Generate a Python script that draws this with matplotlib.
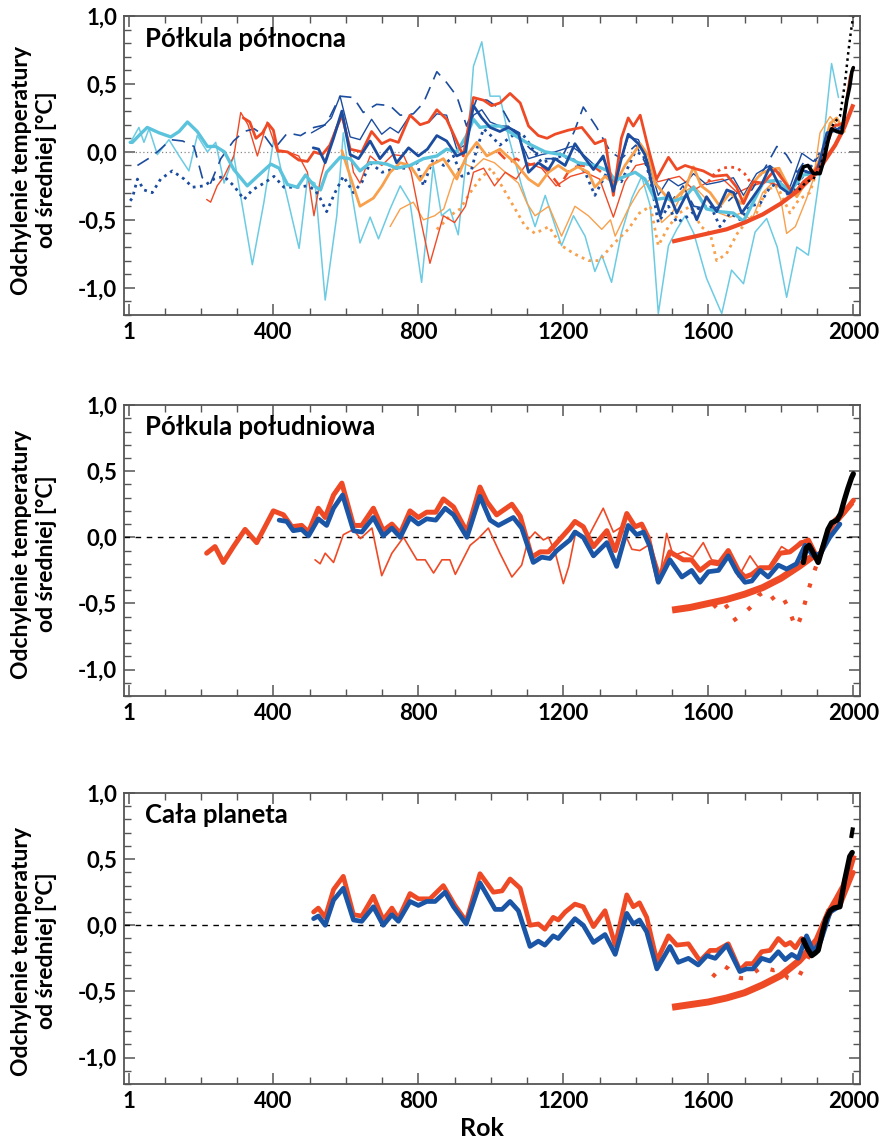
import numpy as np
import matplotlib
matplotlib.use('Agg')
import matplotlib.pyplot as plt
from matplotlib.ticker import MultipleLocator, FixedLocator, FuncFormatter

plt.rcParams['font.family'] = ['Lato', 'DejaVu Sans']
plt.rcParams['font.weight'] = 'bold'
plt.rcParams['lines.solid_joinstyle'] = 'round'
plt.rcParams['lines.solid_capstyle'] = 'round'

# ---------------- Północna (NH) ----------------
nh_cyan_thick_x = [5, 11, 29, 52, 85, 117, 140, 163, 190, 218, 241, 265, 291, 328, 356, 393, 416, 439, 466, 489, 512, 530, 547, 584, 612, 639, 667, 690, 713, 740, 777, 814, 851, 878, 906, 933, 952, 970, 998, 1025, 1039, 1067, 1104, 1150, 1195, 1241, 1287, 1324, 1343, 1370, 1398, 1425, 1453, 1481, 1508, 1536, 1559, 1595, 1632, 1669, 1697, 1720, 1752, 1789, 1825, 1862, 1890]
nh_cyan_thick_y = [0.07, 0.07, 0.12, 0.18, 0.14, 0.11, 0.15, 0.22, 0.15, 0.04, 0.04, 0.0, -0.13, -0.25, -0.18, -0.09, -0.12, -0.24, -0.26, -0.17, -0.25, -0.28, -0.15, -0.04, -0.05, -0.14, -0.08, -0.08, -0.09, -0.12, -0.10, -0.05, -0.03, 0.02, 0.0, 0.12, 0.24, 0.18, 0.19, 0.19, 0.17, 0.12, 0.06, 0.0, -0.02, -0.08, -0.10, -0.14, -0.21, -0.18, -0.15, -0.20, -0.35, -0.34, -0.36, -0.33, -0.26, -0.42, -0.44, -0.45, -0.51, -0.39, -0.22, -0.21, -0.29, -0.17, -0.16]

nh_cyan_thin_x = [6, 29, 43, 57, 80, 112, 140, 167, 190, 218, 241, 264, 291, 342, 374, 402, 429, 471, 494, 515, 543, 575, 593, 616, 639, 667, 690, 722, 750, 777, 809, 841, 864, 887, 910, 933, 952, 975, 998, 1025, 1050, 1085, 1122, 1150, 1195, 1228, 1260, 1287, 1306, 1333, 1360, 1389, 1416, 1440, 1462, 1490, 1513, 1536, 1560, 1595, 1637, 1664, 1697, 1729, 1761, 1790, 1816, 1844, 1876, 1908, 1940, 1959]
nh_cyan_thin_y = [0.07, 0.18, 0.07, 0.17, -0.02, 0.09, -0.03, -0.14, 0.12, 0.0, 0.07, -0.23, -0.03, -0.83, -0.37, 0.11, -0.23, -0.71, -0.20, -0.23, -1.09, -0.47, 0.14, -0.30, -0.67, -0.48, -0.64, -0.42, -0.25, -0.37, -0.96, -0.10, -0.47, -0.42, -0.61, -0.03, 0.63, 0.81, 0.41, 0.41, 0.10, -0.25, -0.55, -0.32, -0.69, -0.47, -0.62, -0.88, -0.76, -0.96, -0.60, -0.34, -0.18, -0.40, -1.19, -0.69, -0.57, -0.47, -0.60, -0.93, -1.19, -0.87, -0.97, -0.59, -0.49, -0.70, -1.07, -0.70, -0.76, -0.16, 0.65, 0.40]

nh_red_thick_x = [317, 335, 352, 370, 385, 400, 412, 439, 470, 494, 512, 535, 556, 575, 589, 612, 644, 671, 699, 722, 745, 777, 805, 828, 851, 878, 897, 924, 952, 980, 1002, 1025, 1053, 1081, 1104, 1131, 1155, 1177, 1214, 1251, 1287, 1315, 1338, 1360, 1379, 1393, 1412, 1435, 1457, 1490, 1513, 1536, 1559, 1586, 1614, 1651, 1678, 1697, 1724, 1752, 1784, 1807, 1835, 1862, 1890, 1917, 1945, 1972, 1991, 2000]
nh_red_thick_y = [0.25, 0.22, 0.10, 0.14, 0.21, 0.16, 0.01, 0.0, -0.06, -0.07, 0.0, -0.02, 0.05, 0.18, 0.27, 0.02, 0.0, 0.15, 0.06, 0.09, 0.07, 0.27, 0.20, 0.22, 0.31, 0.24, 0.13, -0.03, 0.40, 0.38, 0.34, 0.36, 0.43, 0.36, 0.19, 0.12, 0.10, 0.13, 0.16, 0.18, 0.06, 0.09, -0.32, 0.10, 0.25, 0.19, 0.27, 0.02, -0.20, -0.04, -0.13, -0.10, -0.12, -0.14, -0.18, -0.17, -0.26, -0.38, -0.22, -0.23, -0.13, -0.21, -0.31, -0.22, -0.16, -0.03, 0.19, 0.21, 0.55, 0.62]

nh_red_thin_x = [216, 227, 245, 264, 291, 310, 330, 356, 383, 411, 440, 470, 494, 512, 530, 550, 575, 593, 621, 639, 667, 699, 730, 760, 780, 800, 832, 869, 900, 930, 952, 980, 1010, 1040, 1070, 1100, 1140, 1180, 1220, 1260, 1300, 1338, 1370, 1400, 1435, 1460, 1490, 1520, 1560, 1600, 1640, 1680, 1720, 1760, 1800, 1840, 1870, 1900]
nh_red_thin_y = [-0.35, -0.37, -0.25, -0.18, -0.03, 0.29, 0.20, -0.03, 0.22, 0.0, 0.0, -0.03, -0.15, -0.47, -0.20, 0.0, 0.19, 0.27, -0.15, -0.23, -0.03, -0.10, -0.02, -0.03, -0.15, -0.42, -0.82, -0.47, -0.52, -0.40, -0.15, -0.12, -0.25, -0.15, -0.20, -0.08, -0.12, -0.25, -0.18, -0.15, -0.20, -0.48, -0.22, -0.10, -0.08, -0.22, -0.20, -0.18, -0.28, -0.22, -0.20, -0.30, -0.25, -0.22, -0.25, -0.30, -0.20, -0.15]

nh_red_dash_x = [1020, 1050, 1070, 1100, 1130, 1160, 1190, 1220, 1250, 1290, 1320, 1350]
nh_red_dash_y = [0.0, -0.08, -0.05, -0.10, -0.08, -0.15, -0.25, -0.12, -0.10, -0.12, -0.18, -0.22]

nh_red_dot_x = [1600, 1620, 1640, 1660, 1680, 1700, 1715]
nh_red_dot_y = [-0.22, -0.15, -0.12, -0.11, -0.12, -0.16, -0.22]

nh_curve_x = [1500, 1550, 1600, 1650, 1700, 1750, 1800, 1850, 1880, 1900, 1925, 1950, 1975, 2000]
nh_curve_y = [-0.66, -0.63, -0.60, -0.57, -0.52, -0.46, -0.38, -0.28, -0.20, -0.15, -0.05, 0.05, 0.18, 0.35]

nh_blue_thick_x = [510, 525, 543, 566, 589, 612, 635, 667, 694, 722, 740, 773, 800, 825, 851, 878, 906, 930, 952, 975, 998, 1025, 1048, 1076, 1104, 1131, 1159, 1177, 1205, 1232, 1255, 1283, 1310, 1338, 1360, 1379, 1407, 1425, 1444, 1467, 1490, 1513, 1540, 1568, 1595, 1623, 1651, 1670, 1692, 1724, 1745, 1770, 1798, 1825, 1853, 1875, 1899, 1927, 1954, 1975]
nh_blue_thick_y = [0.03, 0.02, -0.08, 0.10, 0.30, -0.02, -0.05, 0.08, -0.05, 0.04, -0.08, 0.03, -0.03, 0.02, 0.12, 0.08, -0.03, 0.0, 0.34, 0.25, 0.18, 0.15, 0.18, 0.14, -0.15, -0.08, -0.13, -0.05, -0.10, 0.06, -0.03, -0.13, -0.03, -0.29, -0.05, 0.13, 0.06, -0.02, -0.23, -0.47, -0.30, -0.45, -0.31, -0.50, -0.33, -0.44, -0.28, -0.30, -0.45, -0.33, -0.25, -0.11, -0.26, -0.31, -0.13, -0.15, -0.16, 0.14, 0.16, 0.20]

nh_blue_thin_x = [505, 538, 560, 584, 612, 639, 671, 699, 722, 745, 777, 805, 830, 851, 878, 906, 930, 952, 975, 998, 1025, 1048, 1076, 1104, 1140, 1177, 1223, 1255, 1287, 1310, 1338, 1360, 1379, 1407, 1435, 1462, 1490, 1517, 1540, 1559, 1595, 1632, 1669, 1697, 1733, 1770, 1798, 1825, 1858, 1890, 1917, 1945, 1963]
nh_blue_thin_y = [0.14, 0.19, 0.25, 0.41, 0.11, 0.09, 0.24, 0.13, 0.18, 0.14, 0.27, 0.20, 0.22, 0.28, 0.27, 0.02, 0.05, 0.27, 0.31, 0.22, 0.19, 0.19, 0.11, -0.05, -0.02, 0.0, 0.04, -0.02, -0.10, -0.05, -0.23, -0.05, 0.11, 0.09, -0.08, -0.32, -0.20, -0.25, -0.22, -0.16, -0.24, -0.22, -0.19, -0.32, -0.16, -0.10, -0.16, -0.26, -0.01, -0.07, -0.01, 0.19, 0.15]

nh_blue_dash_x = [25, 55, 80, 117, 150, 181, 204, 227, 255, 290, 319, 347, 375, 402, 439, 475, 512, 545, 584, 621, 648, 685, 722, 750, 786, 814, 851, 878, 906, 933, 961, 990, 1035, 1075, 1110, 1150, 1195, 1230, 1255, 1292, 1330, 1360, 1400, 1430, 1460, 1499, 1530, 1560, 1600, 1640, 1680, 1720, 1760, 1789, 1815, 1845, 1870]
nh_blue_dash_y = [-0.10, -0.05, 0.0, 0.09, 0.08, 0.04, -0.19, -0.23, -0.05, 0.08, 0.15, 0.17, 0.12, 0.02, 0.14, 0.12, 0.18, 0.20, 0.41, 0.40, 0.29, 0.35, 0.34, 0.27, 0.28, 0.36, 0.59, 0.51, 0.41, 0.19, 0.39, 0.38, 0.30, 0.11, 0.02, -0.05, -0.05, 0.15, 0.33, 0.18, 0.0, -0.05, 0.05, -0.10, -0.25, -0.36, -0.25, -0.40, -0.42, -0.40, -0.30, -0.28, -0.10, 0.04, -0.02, -0.15, -0.05]

nh_blue_dot_x = [5, 11, 25, 43, 66, 89, 121, 154, 177, 209, 236, 264, 291, 319, 342, 374, 402, 429, 466, 494, 515, 529, 547, 570, 593, 621, 645, 667, 700, 740, 770, 796, 814, 841, 870, 897, 920, 945, 961, 980, 1000, 1025, 1060, 1085, 1104, 1140, 1195, 1230, 1260, 1287, 1320, 1360, 1398, 1420, 1440, 1462, 1490, 1513, 1540, 1570, 1605, 1632, 1660, 1688, 1715, 1743, 1770, 1798, 1825, 1855, 1880, 1908, 1930]
nh_blue_dot_y = [-0.36, -0.34, -0.20, -0.28, -0.30, -0.20, -0.14, -0.20, -0.26, -0.25, -0.20, -0.18, -0.25, -0.35, -0.28, -0.23, -0.18, -0.26, -0.26, -0.25, -0.28, -0.34, -0.44, -0.30, -0.18, -0.30, -0.22, -0.08, -0.15, -0.12, -0.12, -0.08, -0.25, -0.05, -0.10, -0.03, -0.18, -0.15, 0.02, 0.17, 0.12, 0.05, 0.12, 0.14, 0.07, -0.08, -0.03, -0.06, -0.15, -0.32, -0.15, -0.22, 0.0, -0.02, -0.20, -0.52, -0.40, -0.52, -0.48, -0.42, -0.39, -0.55, -0.45, -0.50, -0.40, -0.38, -0.26, -0.22, -0.34, -0.20, -0.12, -0.01, 0.05]

nh_orange_thick_x = [589, 612, 639, 676, 700, 722, 750, 777, 805, 832, 869, 906, 933, 961, 989, 1025, 1045, 1067, 1104, 1131, 1159, 1186, 1214, 1240, 1269, 1287, 1315, 1343, 1370, 1412, 1435, 1453, 1475, 1499, 1536, 1559, 1580, 1605, 1632, 1660, 1690, 1720, 1745, 1770, 1795, 1820, 1844, 1870, 1900, 1920, 1936, 1954, 1975]
nh_orange_thick_y = [0.01, -0.18, -0.40, -0.34, -0.25, -0.15, -0.08, -0.10, -0.21, -0.10, -0.05, -0.20, -0.03, 0.07, -0.03, 0.02, -0.03, -0.08, -0.20, -0.25, -0.15, -0.10, -0.15, -0.11, -0.15, -0.26, -0.18, -0.24, -0.10, 0.06, -0.03, -0.23, -0.30, -0.37, -0.27, -0.11, -0.25, -0.30, -0.40, -0.30, -0.38, -0.24, -0.16, -0.13, -0.12, -0.25, -0.33, -0.22, -0.10, 0.05, 0.21, 0.25, 0.15]

nh_orange_thin_x = [722, 750, 786, 814, 845, 870, 897, 924, 952, 980, 1010, 1040, 1076, 1100, 1122, 1160, 1195, 1232, 1269, 1306, 1330, 1343, 1379, 1410, 1440, 1471, 1500, 1530, 1560, 1595, 1630, 1660, 1690, 1720, 1750, 1780, 1800, 1816, 1840, 1870, 1890, 1908, 1936, 1960, 1975]
nh_orange_thin_y = [-0.55, -0.42, -0.37, -0.50, -0.47, -0.42, -0.20, -0.08, -0.12, -0.05, -0.08, -0.15, -0.23, -0.38, -0.47, -0.40, -0.62, -0.40, -0.47, -0.57, -0.50, -0.62, -0.42, -0.28, -0.20, -0.52, -0.45, -0.30, -0.25, -0.35, -0.45, -0.48, -0.45, -0.50, -0.30, -0.22, -0.35, -0.60, -0.55, -0.35, -0.20, 0.14, 0.26, 0.18, 0.15]

nh_orange_dot_x = [851, 870, 887, 915, 943, 970, 1000, 1030, 1067, 1095, 1122, 1160, 1195, 1230, 1269, 1300, 1330, 1360, 1379, 1410, 1440, 1462, 1490, 1520, 1550, 1580, 1605, 1623, 1650, 1680, 1710, 1733, 1760, 1790, 1825, 1850, 1880, 1910, 1940]
nh_orange_dot_y = [-0.57, -0.52, -0.47, -0.42, -0.30, -0.20, -0.12, -0.25, -0.42, -0.55, -0.60, -0.55, -0.69, -0.75, -0.80, -0.80, -0.70, -0.62, -0.57, -0.45, -0.40, -0.69, -0.55, -0.45, -0.40, -0.55, -0.60, -0.80, -0.75, -0.60, -0.50, -0.45, -0.28, -0.25, -0.45, -0.35, -0.30, -0.05, 0.15]

nh_black_x = [1850, 1862, 1875, 1890, 1908, 1920, 1930, 1940, 1954, 1968, 1982, 1990, 1996, 2000]
nh_black_y = [-0.20, -0.11, -0.10, -0.16, -0.16, -0.05, 0.08, 0.17, 0.15, 0.14, 0.38, 0.48, 0.59, 0.62]
nh_black_dot_x = [1850, 1870, 1890, 1910, 1930, 1945, 1963, 1977, 1986, 1993, 1998, 2000]
nh_black_dot_y = [-0.28, -0.22, -0.20, -0.10, 0.10, 0.21, 0.26, 0.51, 0.73, 0.88, 0.97, 1.0]

# ---------------- Południowa (SH) ----------------
sh_red_x = [216, 239, 262, 290, 322, 354, 400, 428, 451, 478, 497, 524, 543, 566, 589, 621, 644, 676, 703, 727, 750, 777, 800, 823, 848, 869, 897, 934, 970, 989, 1016, 1058, 1081, 1113, 1136, 1159, 1182, 1218, 1232, 1255, 1283, 1320, 1343, 1375, 1398, 1416, 1434, 1462, 1494, 1531, 1554, 1577, 1605, 1628, 1655, 1683, 1701, 1720, 1743, 1770, 1798, 1825, 1853, 1876, 1903, 1926, 1950, 1972, 2000]
sh_red_y = [-0.12, -0.07, -0.19, -0.07, 0.06, -0.04, 0.20, 0.17, 0.08, 0.09, 0.04, 0.22, 0.15, 0.32, 0.41, 0.09, 0.09, 0.22, 0.05, 0.10, 0.03, 0.20, 0.15, 0.19, 0.19, 0.29, 0.23, 0.04, 0.38, 0.27, 0.17, 0.25, 0.16, -0.15, -0.11, -0.11, -0.04, 0.07, 0.12, 0.08, -0.07, 0.05, -0.10, 0.18, 0.08, 0.10, 0.0, -0.33, -0.11, -0.17, -0.17, -0.25, -0.19, -0.20, -0.10, -0.25, -0.30, -0.28, -0.23, -0.23, -0.12, -0.11, -0.05, -0.02, -0.17, 0.0, 0.13, 0.18, 0.28]

sh_blue_x = [416, 437, 455, 478, 497, 524, 547, 566, 591, 621, 644, 676, 703, 727, 750, 777, 800, 823, 848, 874, 897, 934, 970, 998, 1021, 1062, 1085, 1117, 1140, 1163, 1182, 1218, 1232, 1255, 1283, 1320, 1347, 1379, 1402, 1421, 1439, 1462, 1494, 1527, 1554, 1577, 1600, 1628, 1655, 1678, 1701, 1720, 1743, 1765, 1793, 1816, 1843, 1867, 1890, 1910, 1935, 1963]
sh_blue_y = [0.13, 0.12, 0.05, 0.06, 0.01, 0.14, 0.09, 0.22, 0.32, 0.05, 0.04, 0.15, 0.01, 0.07, 0.0, 0.15, 0.10, 0.14, 0.13, 0.22, 0.17, 0.0, 0.31, 0.13, 0.09, 0.15, 0.07, -0.19, -0.15, -0.16, -0.10, -0.02, 0.04, 0.0, -0.14, -0.04, -0.22, 0.09, 0.02, 0.04, -0.07, -0.34, -0.17, -0.30, -0.25, -0.34, -0.26, -0.25, -0.14, -0.26, -0.34, -0.33, -0.25, -0.30, -0.21, -0.24, -0.20, -0.06, -0.14, -0.12, 0.0, 0.10]

sh_red_thin_x = [515, 529, 543, 566, 593, 621, 640, 672, 699, 727, 759, 796, 819, 842, 865, 887, 902, 943, 965, 993, 1025, 1058, 1085, 1103, 1122, 1145, 1159, 1177, 1200, 1215, 1235, 1264, 1310, 1338, 1361, 1389, 1411, 1440, 1467, 1485, 1503, 1531, 1558, 1586, 1609, 1632, 1655, 1683, 1715, 1738, 1765, 1802, 1825, 1853, 1876, 1903, 1935, 1960, 2000]
sh_red_thin_y = [-0.17, -0.20, -0.12, -0.19, 0.02, 0.06, -0.01, 0.07, -0.29, -0.12, 0.0, -0.17, -0.17, -0.27, -0.17, -0.17, -0.28, -0.06, -0.01, 0.07, -0.12, -0.30, -0.21, -0.02, 0.04, -0.02, 0.0, -0.11, -0.35, -0.22, 0.05, -0.02, 0.22, 0.04, 0.08, -0.09, -0.10, -0.05, -0.28, 0.03, -0.14, -0.11, -0.15, -0.04, -0.17, -0.18, -0.12, -0.30, -0.14, -0.23, -0.23, -0.07, -0.11, -0.03, -0.02, -0.19, 0.0, 0.12, 0.25]

sh_curve_x = [1500, 1550, 1600, 1650, 1700, 1750, 1800, 1850, 1880, 1900]
sh_curve_y = [-0.55, -0.53, -0.50, -0.47, -0.43, -0.38, -0.31, -0.22, -0.16, -0.12]

sh_dot_x = [1614, 1637, 1655, 1669, 1696, 1720, 1738, 1761, 1784, 1805, 1822, 1835, 1844, 1857, 1867, 1876, 1886, 1897]
sh_dot_y = [-0.53, -0.47, -0.54, -0.63, -0.58, -0.52, -0.44, -0.40, -0.48, -0.45, -0.54, -0.64, -0.68, -0.59, -0.49, -0.40, -0.31, -0.22]

sh_black_x = [1862, 1870, 1878, 1890, 1903, 1915, 1930, 1940, 1955, 1965, 1975, 1985, 1995, 2000]
sh_black_y = [-0.19, -0.08, -0.06, -0.12, -0.19, -0.08, 0.06, 0.11, 0.13, 0.18, 0.28, 0.37, 0.45, 0.48]

# ---------------- Cała planeta (global) ----------------
gl_red_x = [511, 524, 543, 566, 593, 621, 644, 676, 703, 727, 745, 777, 800, 832, 869, 901, 932, 970, 1007, 1031, 1053, 1081, 1108, 1131, 1149, 1172, 1186, 1205, 1232, 1255, 1283, 1315, 1343, 1375, 1393, 1410, 1430, 1458, 1490, 1513, 1545, 1577, 1605, 1623, 1655, 1687, 1705, 1723, 1747, 1770, 1793, 1812, 1826, 1840, 1857, 1880, 1903, 1931, 1963, 1991, 2000]
gl_red_y = [0.10, 0.13, 0.06, 0.27, 0.37, 0.08, 0.07, 0.22, 0.04, 0.13, 0.05, 0.24, 0.20, 0.20, 0.30, 0.15, 0.03, 0.39, 0.25, 0.26, 0.35, 0.28, 0.0, 0.01, -0.03, 0.06, 0.04, 0.10, 0.16, 0.14, -0.01, 0.11, -0.15, 0.23, 0.14, 0.17, 0.06, -0.27, -0.08, -0.15, -0.14, -0.27, -0.19, -0.19, -0.14, -0.34, -0.29, -0.29, -0.20, -0.19, -0.10, -0.15, -0.13, -0.17, -0.10, -0.16, -0.18, 0.11, 0.15, 0.34, 0.40]

gl_blue_x = [511, 524, 543, 566, 593, 621, 644, 676, 703, 727, 745, 777, 800, 823, 846, 874, 897, 932, 970, 1012, 1031, 1053, 1076, 1108, 1131, 1149, 1172, 1186, 1232, 1255, 1283, 1315, 1343, 1375, 1393, 1410, 1430, 1458, 1494, 1517, 1545, 1572, 1596, 1619, 1651, 1687, 1705, 1723, 1747, 1770, 1793, 1812, 1830, 1848, 1871, 1890, 1910, 1936, 1954]
gl_blue_y = [0.05, 0.07, 0.0, 0.19, 0.28, 0.04, 0.03, 0.14, 0.0, 0.08, 0.03, 0.18, 0.15, 0.18, 0.18, 0.25, 0.14, 0.01, 0.32, 0.12, 0.12, 0.18, 0.11, -0.16, -0.12, -0.15, -0.08, -0.10, 0.05, 0.0, -0.13, -0.07, -0.22, 0.09, 0.01, 0.04, -0.05, -0.33, -0.16, -0.28, -0.25, -0.30, -0.23, -0.25, -0.15, -0.35, -0.33, -0.33, -0.25, -0.27, -0.20, -0.26, -0.22, -0.25, -0.08, -0.20, -0.12, 0.10, 0.13]

gl_curve_x = [1500, 1550, 1600, 1650, 1700, 1750, 1800, 1850, 1880, 1900, 1930, 1955, 1975, 2000]
gl_curve_y = [-0.62, -0.60, -0.58, -0.55, -0.51, -0.45, -0.38, -0.27, -0.18, -0.11, 0.08, 0.20, 0.30, 0.53]

gl_dot_x = [1612, 1625, 1634, 1645, 1656, 1667, 1678, 1690, 1700, 1710, 1725, 1740, 1755, 1767, 1780, 1795, 1810, 1820, 1835, 1848, 1864, 1880]
gl_dot_y = [-0.39, -0.35, -0.31, -0.31, -0.33, -0.36, -0.39, -0.40, -0.40, -0.39, -0.36, -0.33, -0.31, -0.33, -0.34, -0.33, -0.37, -0.40, -0.41, -0.40, -0.31, -0.22]

gl_black_x = [1862, 1872, 1885, 1895, 1903, 1915, 1925, 1936, 1946, 1963, 1976, 1990, 1997]
gl_black_y = [-0.11, -0.17, -0.23, -0.21, -0.19, -0.05, 0.05, 0.11, 0.13, 0.14, 0.34, 0.52, 0.55]
gl_black_seg_x = [1994, 1999]
gl_black_seg_y = [0.66, 0.74]

titles = ['Półkula północna', 'Półkula południowa', 'Cała planeta']
ylab = 'Odchylenie temperatury\nod średniej [°C]'
xticks = [1, 400, 800, 1200, 1600, 2000]

RED = '#ef4a26'
BLUE = '#1b55a5'
DBLUE = '#1c4c9e'
CYAN = '#5cc3dc'
ORANGE = '#f8a04c'

fig = plt.figure(figsize=(8.82, 11.42), dpi=100)
ax1 = fig.add_axes([0.1406, 0.7242, 0.8345, 0.2618])
ax2 = fig.add_axes([0.1406, 0.3905, 0.8345, 0.2548])
ax3 = fig.add_axes([0.1406, 0.0508, 0.8345, 0.2548])

def fmt(v, pos):
    return ('%.1f' % v).replace('.', ',')

for ax in (ax1, ax2, ax3):
    ax.set_xlim(-12, 2018.5)
    ax.set_ylim(-1.2, 1.0)
    ax.xaxis.set_major_locator(FixedLocator(xticks))
    ax.xaxis.set_minor_locator(FixedLocator([y for y in range(100, 2000, 100) if y % 400 != 0]))
    ax.yaxis.set_major_locator(MultipleLocator(0.5))
    ax.yaxis.set_minor_locator(MultipleLocator(0.1))
    ax.yaxis.set_major_formatter(FuncFormatter(fmt))
    ax.tick_params(which='both', direction='in', top=True, right=True, color='#555555',
                   labelsize=16, pad=5)
    ax.tick_params(which='major', length=8, width=1.1)
    ax.tick_params(which='minor', length=5, width=1.0)
    for s in ax.spines.values():
        s.set_color('#555555')
        s.set_linewidth(1.3)
    for lab in ax.get_xticklabels() + ax.get_yticklabels():
        lab.set_fontweight('bold')

# panel 1
ax1.axhline(0, color='#888888', lw=0.9, ls=(0, (1, 2)))
ax1.plot(nh_cyan_thin_x, nh_cyan_thin_y, color='#6ccbe3', lw=1.1)
ax1.plot(nh_orange_dot_x, nh_orange_dot_y, color=ORANGE, lw=2.0, ls=(0, (1, 1.6)))
ax1.plot(nh_orange_thin_x, nh_orange_thin_y, color=ORANGE, lw=1.0)
ax1.plot(nh_red_thin_x, nh_red_thin_y, color=RED, lw=1.0)
ax1.plot(nh_red_dash_x, nh_red_dash_y, color=RED, lw=1.8, ls=(0, (4, 3)))
ax1.plot(nh_red_dot_x, nh_red_dot_y, color=RED, lw=2.0, ls=(0, (1, 1.6)))
ax1.plot(nh_blue_dot_x, nh_blue_dot_y, color=DBLUE, lw=2.0, ls=(0, (1, 1.6)))
ax1.plot(nh_blue_dash_x, nh_blue_dash_y, color=DBLUE, lw=1.2, ls=(0, (8, 5)))
ax1.plot(nh_blue_thin_x, nh_blue_thin_y, color=DBLUE, lw=1.0)
ax1.plot(nh_orange_thick_x, nh_orange_thick_y, color=ORANGE, lw=2.0)
ax1.plot(nh_cyan_thick_x, nh_cyan_thick_y, color=CYAN, lw=2.4)
ax1.plot(nh_red_thick_x, nh_red_thick_y, color=RED, lw=2.0)
ax1.plot(nh_blue_thick_x, nh_blue_thick_y, color=DBLUE, lw=2.0)
ax1.plot(nh_curve_x, nh_curve_y, color=RED, lw=3.0, solid_capstyle='butt')
ax1.plot(nh_black_dot_x, nh_black_dot_y, color='black', lw=1.8, ls=(0, (1, 1.5)))
ax1.plot(nh_black_x, nh_black_y, color='black', lw=2.6)

# panel 2
ax2.axhline(0, color='black', lw=1.0, ls=(0, (4, 4)))
ax2.plot(sh_red_thin_x, sh_red_thin_y, color=RED, lw=1.2)
ax2.plot(sh_dot_x, sh_dot_y, color=RED, lw=3.0, ls=(0, (1, 3.3)), dash_capstyle='butt')
ax2.plot(sh_curve_x, sh_curve_y, color=RED, lw=5.0, solid_capstyle='butt')
ax2.plot(sh_red_x, sh_red_y, color=RED, lw=3.6)
ax2.plot(sh_blue_x, sh_blue_y, color=BLUE, lw=3.4)
ax2.plot(sh_black_x, sh_black_y, color='black', lw=3.8)

# panel 3
ax3.axhline(0, color='black', lw=1.0, ls=(0, (4, 4)))
ax3.plot(gl_dot_x, gl_dot_y, color=RED, lw=3.0, ls=(0, (1, 3.3)), dash_capstyle='butt')
ax3.plot(gl_curve_x, gl_curve_y, color=RED, lw=5.0, solid_capstyle='butt')
ax3.plot(gl_red_x, gl_red_y, color=RED, lw=3.4)
ax3.plot(gl_blue_x, gl_blue_y, color=BLUE, lw=3.4)
ax3.plot(gl_black_x, gl_black_y, color='black', lw=3.8)
ax3.plot(gl_black_seg_x, gl_black_seg_y, color='black', lw=3.0, solid_capstyle='butt')

for ax, t in zip((ax1, ax2, ax3), titles):
    ax.text(0.028, 0.923, t, transform=ax.transAxes, ha='left', va='center',
            fontsize=18.5, fontweight='bold')

for yc in (170, 554, 951):
    fig.text(34 / 882, 1 - yc / 1142, ylab, rotation=90, ha='center', va='center',
             multialignment='center', fontsize=16.5, fontweight='bold', linespacing=1.2)

fig.text(482 / 882, 1 - 1128 / 1142, 'Rok', ha='center', va='center', fontsize=18, fontweight='bold')

fig.savefig('out.png', dpi=100)
